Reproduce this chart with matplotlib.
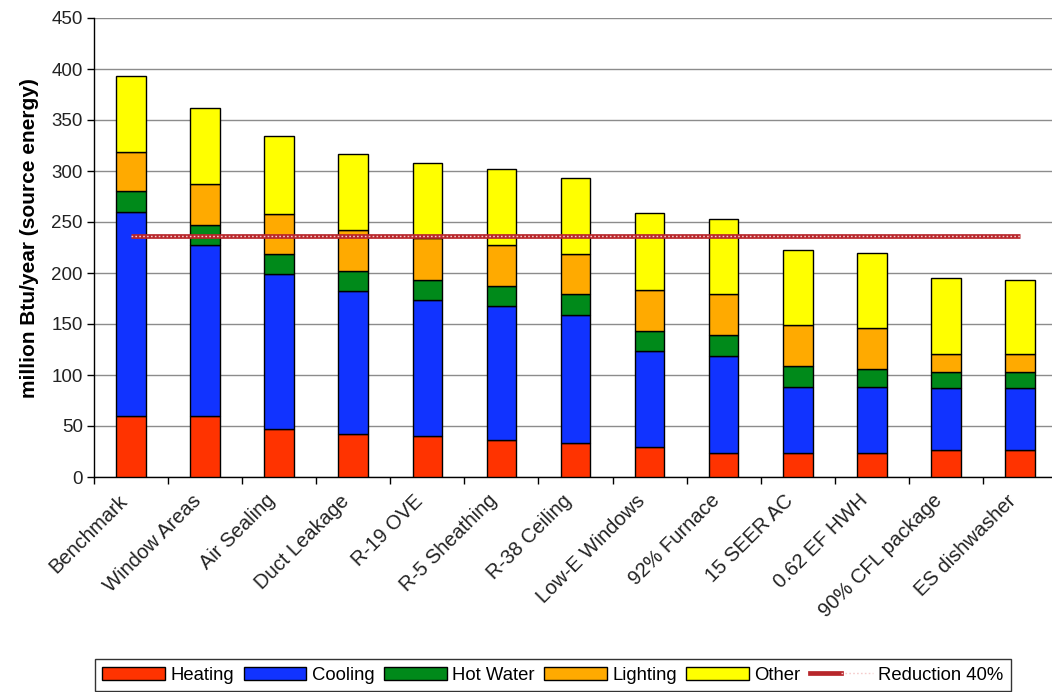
import matplotlib
matplotlib.use("Agg")
import matplotlib.pyplot as plt
import numpy as np
from matplotlib.lines import Line2D
from matplotlib.patches import Patch
from matplotlib.legend_handler import HandlerTuple
from matplotlib.transforms import ScaledTranslation

plt.rcParams['font.family'] = ['Liberation Sans', 'DejaVu Sans']

# Energy-saving measures (cumulative), million Btu/year source energy
measures = ["Benchmark", "Window Areas", "Air Sealing", "Duct Leakage", "R-19 OVE",
            "R-5 Sheathing", "R-38 Ceiling", "Low-E Windows", "92% Furnace",
            "15 SEER AC", "0.62 EF HWH", "90% CFL package", "ES dishwasher"]
heating   = [60, 60, 47, 42, 40, 36, 33, 29, 24, 24, 24, 26, 26]
cooling   = [200, 167, 152, 140, 134, 132, 126, 95, 95, 64, 64, 61, 61]
hot_water = [20, 20, 20, 20, 19, 19, 20, 19, 20, 21, 18, 16, 16]
lighting  = [39, 40, 39, 40, 41, 40, 40, 40, 40, 40, 40, 18, 18]
other     = [74, 75, 76, 75, 74, 75, 74, 76, 74, 74, 74, 74, 72]
reduction_pct = 40

series = [("Heating", heating, "#ff3300"),
          ("Cooling", cooling, "#1133ff"),
          ("Hot Water", hot_water, "#008a1a"),
          ("Lighting", lighting, "#ffaa00"),
          ("Other", other, "#ffff00")]

fig = plt.figure(figsize=(10.52, 6.92), dpi=100)
ax = fig.add_axes([94 / 1052, (692 - 477) / 692, 963 / 1052, 459 / 692])

x = np.arange(len(measures))
bottom = np.zeros(len(measures))
handles = []
for name, vals, col in series:
    ax.bar(x, vals, width=0.4, bottom=bottom, color=col, edgecolor="black",
           linewidth=1.0, zorder=3)
    bottom += np.array(vals)
    handles.append(Patch(facecolor=col, edgecolor="black", linewidth=1.0, label=name))

benchmark_total = bottom[0]
target = benchmark_total * (1 - reduction_pct / 100)
target_line = [target] * len(measures)
ax.plot(x, target_line, color="#b8262b", linewidth=3.4, zorder=4, solid_capstyle="butt")
ax.plot(x, target_line, color="#f5cccc", linewidth=1.0, zorder=5,
        dashes=(1.2, 1.6))

ax.set_xlim(-0.5, len(measures) - 0.5)
ax.set_ylim(0, 450)
ax.set_yticks(np.arange(0, 451, 50))
ax.yaxis.grid(True, color="#8c8c8c", linewidth=1.0, zorder=0)
ax.set_axisbelow(True)
for s in ["top", "right"]:
    ax.spines[s].set_visible(False)
ax.spines["left"].set_linewidth(1.0)
ax.spines["bottom"].set_linewidth(1.0)
ax.tick_params(axis="y", direction="out", length=5, width=1, labelsize=13.5,
               labelcolor="#222222", pad=3)

ax.set_xticks(x)
ax.set_xticklabels(measures, rotation=45, ha="right", va="center",
                   rotation_mode="anchor", fontsize=14.5, color="#222222")
ax.tick_params(axis="x", which="major", length=0, pad=15)
shift = ScaledTranslation(-7 / 100, 0, fig.dpi_scale_trans)
for lbl in ax.get_xticklabels():
    lbl.set_transform(lbl.get_transform() + shift)
ax.set_xticks(np.arange(-0.5, len(measures), 1.0), minor=True)
ax.tick_params(axis="x", which="minor", direction="out", length=5, width=1)

ax.set_ylabel("million Btu/year (source energy)", fontsize=15, fontweight="bold")
ax.yaxis.set_label_coords(-0.057, 0.52)

# reduction legend handle: dark red line with light chain pattern
red_h = (Line2D([], [], color="#b8262b", linewidth=3.4),
         Line2D([], [], color="#f5cccc", linewidth=1.0, dashes=(1.2, 1.6)))
labels = [h.get_label() for h in handles] + [f"Reduction {reduction_pct}%"]
leg = fig.legend(handles + [red_h], labels, loc="lower left",
                 bbox_to_anchor=(95 / 1052, 1 / 692),
                 ncol=6, frameon=True, fancybox=False,
                 edgecolor="black", fontsize=13.3, handlelength=3.4,
                 handleheight=0.7, handletextpad=0.3, columnspacing=0.5,
                 borderpad=0.4, borderaxespad=0,
                 handler_map={tuple: HandlerTuple(ndivide=None, pad=0)})
leg.get_frame().set_linewidth(1.0)

fig.savefig("out.png", dpi=100, facecolor="white")
